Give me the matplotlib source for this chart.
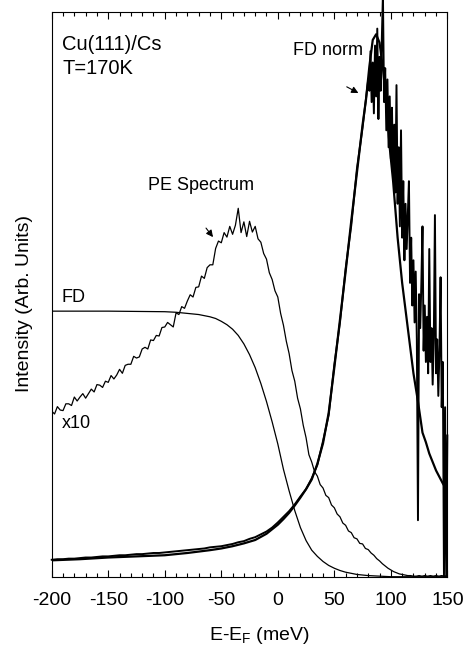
import numpy as np
import matplotlib
matplotlib.use("Agg")
import matplotlib.pyplot as plt

plt.rcParams['font.family'] = ['Liberation Sans', 'DejaVu Sans']
plt.rcParams['mathtext.default'] = 'regular'
plt.rcParams['axes.unicode_minus'] = False

# PE spectrum (x10), read every 2.5 meV from -200 to 150
pe_x = np.arange(-200, 150.1, 2.5)
pe_y = [
    # -200 .. -100
    0.293, 0.288, 0.301, 0.295, 0.294, 0.306, 0.306, 0.303, 0.318, 0.311,
    0.318, 0.324, 0.316, 0.324, 0.332, 0.327, 0.340, 0.339, 0.335, 0.346,
    0.344, 0.356, 0.350, 0.357, 0.367, 0.360, 0.374, 0.376, 0.376, 0.390,
    0.387, 0.389, 0.403, 0.406, 0.403, 0.419, 0.418, 0.427, 0.426, 0.441,
    0.442,
    # -97.5 .. 0
    0.450, 0.446, 0.442, 0.467, 0.464, 0.478, 0.475, 0.488, 0.499, 0.495,
    0.512, 0.513, 0.532, 0.528, 0.547, 0.552, 0.552, 0.581, 0.594, 0.591,
    0.609, 0.601, 0.620, 0.606, 0.622, 0.652, 0.609, 0.628, 0.602, 0.629,
    0.610, 0.620, 0.598, 0.592, 0.572, 0.562, 0.538, 0.526, 0.506, 0.495,
    # 2.5 .. 120
    0.466, 0.445, 0.417, 0.395, 0.365, 0.346, 0.316, 0.297, 0.268, 0.246,
    0.216, 0.203, 0.186, 0.178, 0.163, 0.157, 0.144, 0.140, 0.127, 0.122,
    0.111, 0.106, 0.095, 0.091, 0.081, 0.078, 0.069, 0.067, 0.059, 0.058,
    0.050, 0.048, 0.042, 0.038, 0.032, 0.028, 0.023, 0.019, 0.015, 0.012,
    0.009, 0.007, 0.005, 0.004, 0.003, 0.002, 0.002, 0.001,
    # 122.5 .. 150
    0.001, 0.002, 0.001, 0.002, 0.001, 0.002, 0.001, 0.002, 0.001, 0.002,
    0.001, 0.002,
]

# Fermi-Dirac distribution (T=170K)
fd_x = [-200, -150, -100, -90, -80, -70, -60, -55, -50, -45, -40, -35, -30,
        -25, -20, -15, -10, -5, 0, 5, 10, 15, 20, 25, 30, 35, 40, 45, 50,
        55, 60, 70, 80, 90, 100, 150]
fd_y = [0.470, 0.470, 0.469, 0.468, 0.466, 0.464, 0.460, 0.457, 0.452, 0.446,
        0.438, 0.427, 0.412, 0.393, 0.370, 0.342, 0.310, 0.274, 0.235, 0.190,
        0.152, 0.117, 0.087, 0.064, 0.047, 0.036, 0.027, 0.020, 0.015, 0.011,
        0.008, 0.004, 0.002, 0.001, 0.000, 0.000]

# smooth fit of the FD-normalised spectrum
fit_x = [-200, -175, -150, -125, -100, -80, -60, -50, -40, -30, -20, -10, 0,
         5, 10, 15, 20, 25, 30, 35, 40, 45, 50, 55, 60, 65, 70, 75, 78, 81,
         84, 87, 90, 93, 96, 99, 102, 106, 110, 115, 120, 124, 128, 131, 134,
         140, 146, 150]
fit_y = [0.029, 0.031, 0.034, 0.036, 0.038, 0.042, 0.047, 0.050, 0.054, 0.059,
         0.065, 0.076, 0.092, 0.102, 0.113, 0.126, 0.140, 0.155, 0.172, 0.200,
         0.236, 0.290, 0.370, 0.455, 0.540, 0.630, 0.715, 0.800, 0.844, 0.903,
         0.950, 0.960, 0.945, 0.900, 0.840, 0.760, 0.700, 0.600, 0.520, 0.440,
         0.360, 0.310, 0.255, 0.238, 0.218, 0.188, 0.165, 0.152]

# FD-normalised data: every 5 meV up to 80, then every 1 meV
fdn_x = np.concatenate([np.arange(-200, 81, 5), np.arange(81, 151, 1)])
fdn_y = [
    # -200 .. -100
    0.030, 0.031, 0.031, 0.032, 0.032, 0.033, 0.034, 0.034, 0.035, 0.036,
    0.036, 0.037, 0.038, 0.038, 0.039, 0.040, 0.040, 0.041, 0.042, 0.042,
    0.043,
    # -95 .. 0
    0.044, 0.045, 0.046, 0.047, 0.048, 0.049, 0.050, 0.052, 0.053, 0.054,
    0.056, 0.058, 0.061, 0.063, 0.067, 0.070, 0.075, 0.080, 0.087, 0.096,
    # 5 .. 80
    0.106, 0.116, 0.128, 0.142, 0.155, 0.174, 0.198, 0.240, 0.286, 0.375,
    0.450, 0.545, 0.622, 0.722, 0.795, 0.880,
    # 81 .. 150
    0.86, 0.93, 0.84, 0.91, 0.82, 0.94, 0.85, 0.97, 0.81, 0.92,
    0.86, 0.95, 1.03, 0.84, 0.90, 0.79, 0.88, 0.76, 0.85, 0.74,
    0.83, 0.70, 0.80, 0.68, 0.87, 0.66, 0.76, 0.62, 0.79, 0.60,
    0.70, 0.56, 0.66, 0.58, 0.64, 0.70, 0.52, 0.60, 0.48, 0.56,
    0.45, 0.54, 0.42, 0.10, 0.50, 0.44, 0.52, 0.62, 0.40, 0.48,
    0.38, 0.46, 0.36, 0.58, 0.38, 0.44, 0.34, 0.42, 0.64, 0.36,
    0.42, 0.32, 0.40, 0.53, 0.30, 0.38, 0.00, 0.30, 0.00, 0.25,
]

fig = plt.figure(figsize=(4.66, 6.48), dpi=100)
ax = fig.add_axes([0.111, 0.110, 0.849, 0.872])

ax.plot(fd_x, fd_y, color='black', lw=0.9)
ax.plot(pe_x, pe_y, color='black', lw=0.9)
ax.plot(fdn_x, fdn_y, color='black', lw=1.4, clip_on=False)
ax.plot(fit_x, fit_y, color='black', lw=1.6)

ax.set_xlim(-200, 150)
ax.set_ylim(0, 1)
ax.set_xticks(np.arange(-200, 151, 50))
ax.set_xticks(np.arange(-200, 151, 10), minor=True)
ax.set_yticks([])
ax.tick_params(axis='x', which='both', direction='in', top=True,
               labelsize=14, pad=11, width=0.8)
ax.tick_params(axis='x', which='major', length=5)
ax.tick_params(axis='x', which='minor', length=3)
for s in ax.spines.values():
    s.set_linewidth(0.8)

ax.set_xlabel('E-E$_F$ (meV)', fontsize=14)
ax.xaxis.set_label_coords(0.524, -0.0855)
ax.set_ylabel('Intensity (Arb. Units)', fontsize=14)
ax.yaxis.set_label_coords(-0.047, 0.483)

ax.text(0.026, 0.932, 'Cu(111)/Cs', transform=ax.transAxes, fontsize=14.5)
ax.text(0.026, 0.890, 'T=170K', transform=ax.transAxes, fontsize=14.5)
ax.text(0.609, 0.923, 'FD norm', transform=ax.transAxes, fontsize=13)
ax.text(0.244, 0.684, 'PE Spectrum', transform=ax.transAxes, fontsize=13)
ax.text(0.024, 0.486, 'FD', transform=ax.transAxes, fontsize=13)
ax.text(0.026, 0.263, 'x10', transform=ax.transAxes, fontsize=13)

arrow = dict(arrowstyle='-|>', color='black', lw=0.8, mutation_scale=10,
             shrinkA=0, shrinkB=0)
ax.annotate('', xy=(-57.3, 0.601), xytext=(-63.5, 0.617), arrowprops=arrow)
ax.annotate('', xy=(71.3, 0.856), xytext=(61.0, 0.867), arrowprops=arrow)

fig.savefig('out.png', dpi=100)
